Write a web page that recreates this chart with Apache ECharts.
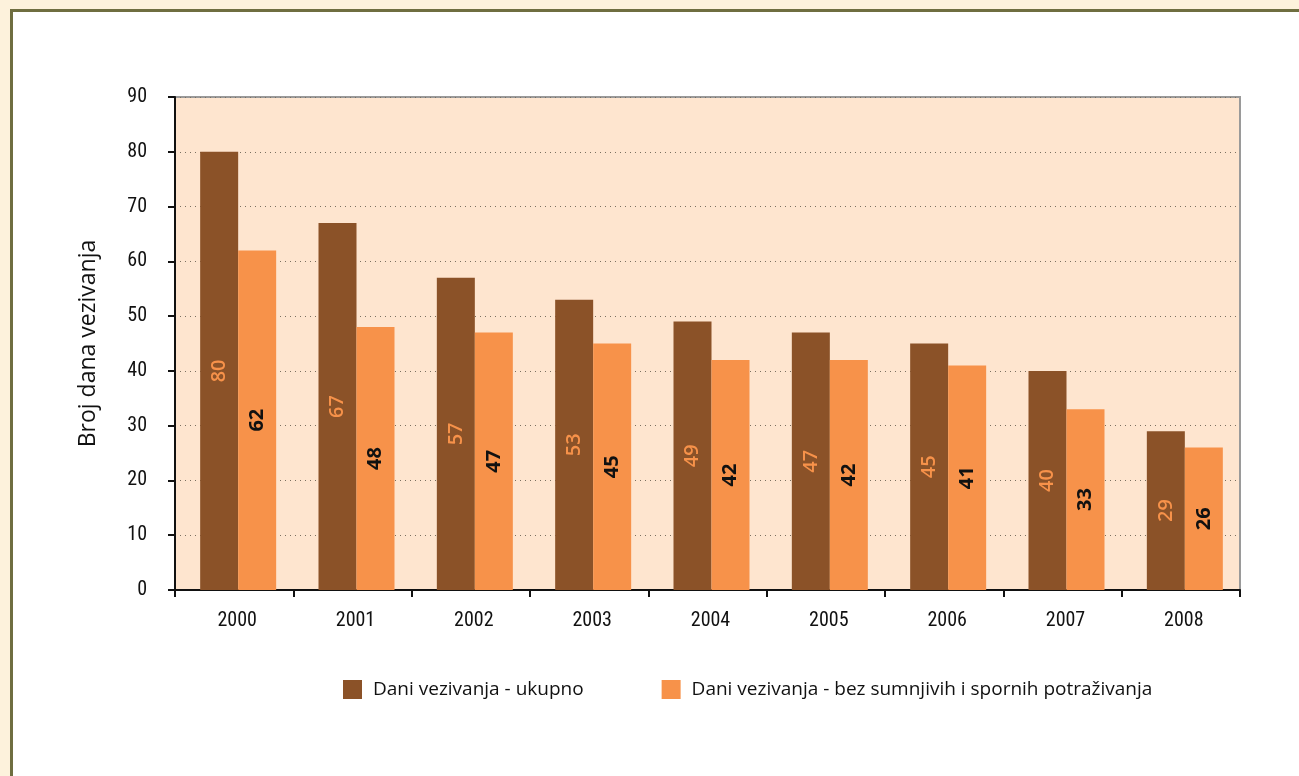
<!DOCTYPE html>
<html>
<head>
<meta charset="utf-8">
<script src="https://cdn.jsdelivr.net/npm/echarts@6/dist/echarts.min.js"></script>
<style>
html,body{margin:0;padding:0;width:1299px;height:776px;overflow:hidden;background:#fdf2dc;}
#panel{position:absolute;left:10px;top:9px;width:1400px;height:900px;background:#ffffff;border:3px solid #6f6e40;box-sizing:border-box;}
#chart{position:absolute;left:0;top:0;width:1299px;height:776px;}
</style>
</head>
<body>
<div id="panel"></div>
<div id="chart"></div>
<script>
var categories = ['2000','2001','2002','2003','2004','2005','2006','2007','2008'];
var ukupno = [80, 67, 57, 53, 49, 47, 45, 40, 29];
var bezSumnjivih = [62, 48, 47, 45, 42, 42, 41, 33, 26];
var seriesNames = ['Dani vezivanja - ukupno', 'Dani vezivanja - bez sumnjivih i spornih potraživanja'];
var axisName = 'Broj dana vezivanja';

var chart = echarts.init(document.getElementById('chart'), null, {renderer:'canvas'});
var tickFont = '"Roboto Condensed", Roboto, sans-serif';
var option = {
  backgroundColor: 'transparent',
  animation: false,
  grid: {left:175, right:59, top:97, bottom:186, show:true, backgroundColor:'#fee5cf', borderColor:'#9a9a9a', borderWidth:2},
  legend: {
    data: seriesNames, left: 338, top: 675, itemWidth: 19, itemHeight: 19, itemGap: 78,
    icon: 'rect',
    textStyle: {fontFamily: '"Open Sans", sans-serif', fontSize: 19, color:'#111', padding:[0,0,0,6]}
  },
  xAxis: {
    type: 'category', data: categories,
    axisLine: {lineStyle:{color:'#111', width:2}},
    axisTick: {show:true, length:7, lineStyle:{color:'#111', width:2}},
    axisLabel: {fontFamily: tickFont, fontWeight:'condensed', fontSize: 20, color:'#111', margin:21, padding:[0,0,0,6]}
  },
  yAxis: {
    type: 'value', min: 0, max: 90, interval: 10,
    name: axisName, nameLocation: 'middle', nameGap: 75, nameRotate: 90,
    nameTextStyle: {fontFamily:'"Open Sans", sans-serif', fontSize:23, color:'#111'},
    axisLine: {show:true, lineStyle:{color:'#111', width:2}},
    axisTick: {show:true, length:7, lineStyle:{color:'#111', width:2}},
    axisLabel: {fontFamily: tickFont, fontWeight:'condensed', fontSize: 20, color:'#111', margin:28},
    splitLine: {show:true, lineStyle:{color:'#7a7060', type:[1,4], width:1}}
  },
  series: [
    {name:'spacer', type:'bar', data:[], barWidth:8, barGap:0, silent:true},
    {name: seriesNames[0], type:'bar', data: ukupno, barWidth:38, barGap:0,
     itemStyle:{color:'#8b5228'},
     label:{show:true, position:'inside', rotate:90, color:'#f7924a', fontFamily:'"Open Sans", sans-serif', fontWeight:'600', fontSize:20}},
    {name: seriesNames[1], type:'bar', data: bezSumnjivih, barWidth:38, barGap:0,
     itemStyle:{color:'#f7924a'},
     label:{show:true, position:'inside', rotate:90, color:'#111', fontFamily:'"Open Sans", sans-serif', fontWeight:'bold', fontSize:20}}
  ]
};
chart.setOption(option);
</script>
</body>
</html>
